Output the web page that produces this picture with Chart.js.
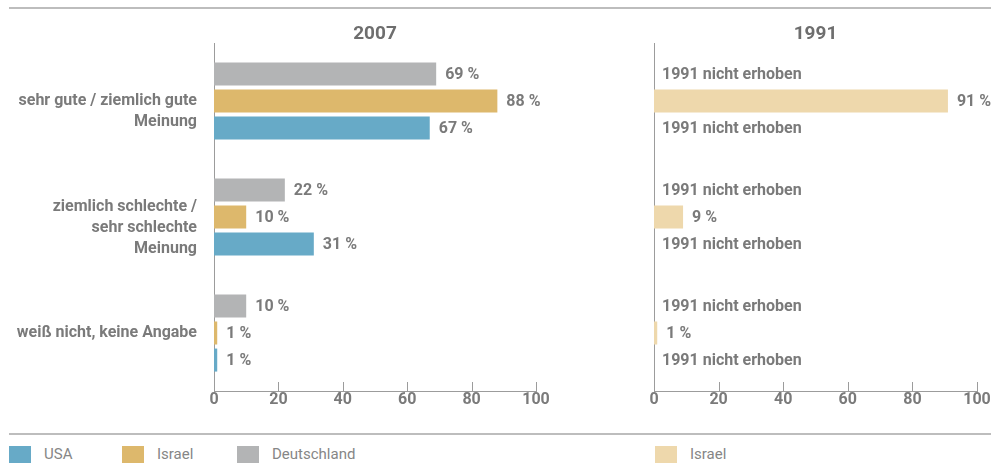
<!DOCTYPE html>
<html>
<head>
<meta charset="utf-8">
<script src="https://cdn.jsdelivr.net/npm/chart.js@4.4.0/dist/chart.umd.min.js"></script>
<style>
  body { margin: 0; background: #fff; font-family: Roboto, sans-serif; }
  #wrap { position: relative; width: 991px; height: 466px; overflow: hidden; }
  .rule { position: absolute; left: 9px; width: 982px; height: 2px; background: #bdbdbd; }
  #chart2007 { position: absolute; left: 0; top: 0; }
  #chart1991 { position: absolute; left: 560px; top: 0; }
  .legend-item { position: absolute; top: 446px; height: 17px; line-height: 17px; font-size: 15px; color: #868686; white-space: nowrap; }
  .legend-item .box { display: inline-block; width: 22px; height: 17px; vertical-align: top; margin-right: 13px; }
</style>
</head>
<body>
<div id="wrap">
  <div class="rule" style="top:7px"></div>
  <canvas id="chart2007" width="560" height="430"></canvas>
  <canvas id="chart1991" width="431" height="430"></canvas>
  <div class="rule" style="top:433px"></div>
  <div id="legend"></div>
</div>
<script>
// answer categories (leading blank line keeps the text block under the middle bar)
var categories = [
  ["", "sehr gute / ziemlich gute", "Meinung"],
  ["", "ziemlich schlechte /", "sehr schlechte", "Meinung"],
  "weiß nicht, keine Angabe"
];
var deutschland2007 = [69, 22, 10];
var israel2007 = [88, 10, 1];
var usa2007 = [67, 31, 1];
var israel1991 = [91, 9, 1];
var notSurveyed1991 = [null, null, null];
var xTicks = [0, 20, 40, 60, 80, 100];
var notSurveyedText = "1991 nicht erhoben";

var colorUSA = "#67aac7";
var colorIsrael = "#ddb86c";
var colorDeutschland = "#b3b4b5";
var colorIsrael1991 = "#eed8ac";
var axisColor = "#9c9c9c";
var textColor = "#7a7a7a";
var titleColor = "#6e6e6e";

var valueLabels = {
  id: "valueLabels",
  afterDatasetsDraw: function (chart) {
    var ctx = chart.ctx;
    var zero = chart.scales.x.getPixelForValue(0);
    ctx.save();
    ctx.font = "bold 16px Roboto";
    ctx.fillStyle = textColor;
    ctx.textBaseline = "middle";
    ctx.textAlign = "left";
    chart.data.datasets.forEach(function (ds, d) {
      chart.getDatasetMeta(d).data.forEach(function (bar, i) {
        var v = ds.data[i];
        if (v === null) {
          ctx.fillText(notSurveyedText, zero + 8, bar.y + 1);
        } else {
          ctx.fillText(v + " %", bar.x + 9, bar.y + 1);
        }
      });
    });
    ctx.restore();
  }
};

// short tick marks pointing up into the plot
var innerTicks = {
  id: "innerTicks",
  afterDatasetsDraw: function (chart) {
    var xs = chart.scales.x;
    var ctx = chart.ctx;
    var bottom = chart.chartArea.bottom;
    ctx.save();
    ctx.strokeStyle = axisColor;
    ctx.lineWidth = 1;
    xs.ticks.forEach(function (t) {
      var px = Math.round(xs.getPixelForValue(t.value)) + 0.5;
      ctx.beginPath();
      ctx.moveTo(px, bottom);
      ctx.lineTo(px, bottom - 9);
      ctx.stroke();
    });
    ctx.restore();
  }
};

function makeOptions(title, axisWidth, showLabels, rightPad) {
  return {
    indexAxis: "y",
    responsive: false,
    animation: false,
    layout: { padding: { top: 0, right: rightPad, bottom: 9, left: 0 } },
    plugins: {
      legend: { display: false },
      tooltip: { enabled: false },
      title: {
        display: true,
        text: title,
        fullSize: false,
        color: titleColor,
        font: { family: "Roboto", size: 19, weight: "bold", lineHeight: "20px" },
        padding: { top: 24, bottom: -1 }
      }
    },
    scales: {
      x: {
        min: 0,
        max: 100,
        afterBuildTicks: function (scale) {
          scale.ticks = xTicks.map(function (v) { return { value: v }; });
        },
        afterFit: function (scale) { scale.height = 30; },
        grid: { display: false, drawTicks: false },
        border: { display: true, color: axisColor, width: 1 },
        ticks: {
          padding: 0,
          color: textColor,
          font: { family: "Roboto", size: 16, weight: "bold", lineHeight: "18px" }
        }
      },
      y: {
        afterFit: function (scale) {
          scale.width = axisWidth;
          // tall category labels should not push the plot edges
          scale.paddingTop = 0;
          scale.paddingBottom = 0;
        },
        grid: { display: false, drawTicks: false },
        border: { display: true, color: axisColor, width: 1 },
        ticks: {
          display: showLabels,
          padding: 17,
          color: textColor,
          font: { family: "Roboto", size: 16, weight: "bold", lineHeight: "21px" }
        }
      }
    }
  };
}

var barLook = { categoryPercentage: 0.7, barPercentage: 0.85 };

new Chart(document.getElementById("chart2007"), {
  type: "bar",
  data: {
    labels: categories,
    datasets: [
      Object.assign({ label: "Deutschland", data: deutschland2007, backgroundColor: colorDeutschland }, barLook),
      Object.assign({ label: "Israel", data: israel2007, backgroundColor: colorIsrael }, barLook),
      Object.assign({ label: "USA", data: usa2007, backgroundColor: colorUSA }, barLook)
    ]
  },
  options: makeOptions("2007", 214, true, 24),
  plugins: [valueLabels, innerTicks]
});

new Chart(document.getElementById("chart1991"), {
  type: "bar",
  data: {
    labels: categories,
    datasets: [
      Object.assign({ label: "Deutschland", data: notSurveyed1991, backgroundColor: colorDeutschland }, barLook),
      Object.assign({ label: "Israel", data: israel1991, backgroundColor: colorIsrael1991 }, barLook),
      Object.assign({ label: "USA", data: notSurveyed1991, backgroundColor: colorUSA }, barLook)
    ]
  },
  options: makeOptions("1991", 94, false, 14),
  plugins: [valueLabels, innerTicks]
});

// legend rows under the bottom rule
var legendItems = [
  { name: "USA", color: colorUSA, left: 9 },
  { name: "Israel", color: colorIsrael, left: 122 },
  { name: "Deutschland", color: colorDeutschland, left: 237 },
  { name: "Israel", color: colorIsrael1991, left: 655 }
];
var legend = document.getElementById("legend");
for (let i = 0; i < legendItems.length; i++) {
  const item = legendItems[i];
  const row = document.createElement("div");
  row.className = "legend-item";
  row.style.left = item.left + "px";
  const box = document.createElement("span");
  box.className = "box";
  box.style.background = item.color;
  const name = document.createElement("span");
  name.textContent = item.name;
  row.appendChild(box);
  row.appendChild(name);
  legend.appendChild(row);
}
</script>
</body>
</html>
